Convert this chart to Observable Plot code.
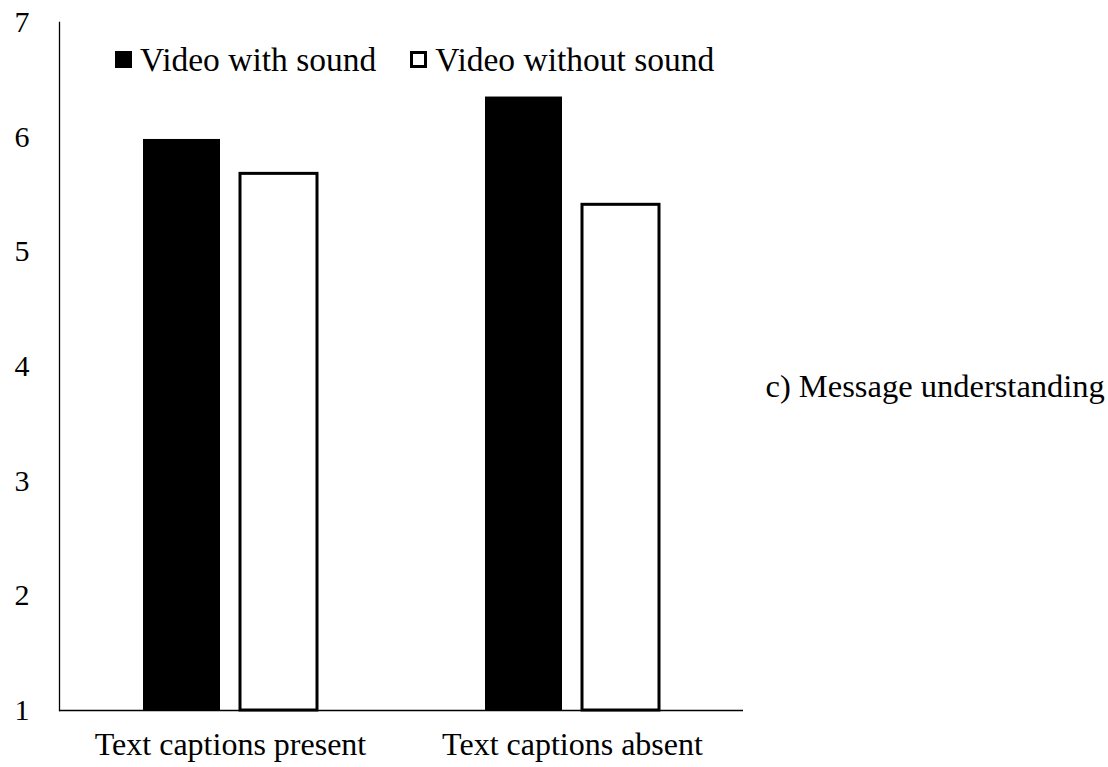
<!DOCTYPE html>
<html><head><meta charset="utf-8">
<script src="https://cdn.jsdelivr.net/npm/d3@7"></script>
<script src="https://cdn.jsdelivr.net/npm/@observablehq/plot@0.6"></script>
<style>
body{margin:0;background:#fff;}
#wrap{position:relative;width:1108px;height:767px;background:#fff;}
#legend{position:absolute;left:115px;top:43px;font-family:"Liberation Serif",serif;font-size:33.5px;color:#000;display:flex;align-items:center;white-space:nowrap;line-height:1;}
#legend .item{display:flex;align-items:center;}
#legend .item + .item{margin-left:34px;}
#legend .sw{display:inline-block;width:17px;height:17px;margin-right:8px;box-sizing:border-box;}
</style></head><body><div id="wrap"></div>
<script>
const categories = ["Text captions present", "Text captions absent"];
const series = ["Video with sound", "Video without sound"];
const withSound = [5.98, 6.35];
const withoutSound = [5.68, 5.41];
const yTicks = [1, 2, 3, 4, 5, 6, 7];
const caption = "c) Message understanding";
const seriesFill = ["#000000", "#ffffff"];

const data = categories.flatMap((c, i) => [
  {category: c, series: series[0], value: withSound[i]},
  {category: c, series: series[1], value: withoutSound[i]}
]);

const plot = Plot.plot({
  width: 1108, height: 767,
  marginLeft: 58, marginRight: 365, marginTop: 22, marginBottom: 57,
  style: {fontFamily: "Liberation Serif, serif", background: "#fff", color: "#000"},
  fx: {domain: categories, padding: 0, label: null},
  x: {domain: series, axis: null, paddingInner: 0.205, paddingOuter: 0.859},
  y: {domain: [yTicks[0], yTicks[yTicks.length - 1]]},
  marks: [
    Plot.barY(data.filter(d => d.series === series[0]), {fx: "category", x: "series", y1: yTicks[0], y2: "value", fill: seriesFill[0]}),
    Plot.barY(data.filter(d => d.series === series[1]), {fx: "category", x: "series", y1: yTicks[0], y2: "value", fill: seriesFill[1], stroke: "#000", strokeWidth: 3}),
    Plot.ruleY([yTicks[0]], {stroke: "#000", strokeWidth: 1.3}),
    Plot.frame({anchor: "left", facetAnchor: "left", stroke: "#000", strokeWidth: 1.3}),
    Plot.axisY({ticks: yTicks, tickSize: 0, tickPadding: 30, fontSize: 30, label: null, tickFormat: d => String(d)}),
    Plot.axisFx({anchor: "bottom", tickSize: 0, tickPadding: 22, fontSize: 32, label: null}),
    Plot.text([caption], {frameAnchor: "right", textAnchor: "start", dx: 22, dy: 20, fontSize: 32.5, facetAnchor: "right", fill: "#000"})
  ]
});

const wrap = document.getElementById("wrap");
wrap.appendChild(plot);
const legend = document.createElement("div");
legend.id = "legend";
series.forEach((s, i) => {
  const item = document.createElement("span");
  item.className = "item";
  const sw = document.createElement("span");
  sw.className = "sw";
  sw.style.background = seriesFill[i];
  sw.style.border = i === 0 ? "none" : "3.5px solid #000";
  const t = document.createElement("span");
  t.textContent = s;
  item.appendChild(sw); item.appendChild(t);
  legend.appendChild(item);
});
wrap.appendChild(legend);
</script></body></html>
